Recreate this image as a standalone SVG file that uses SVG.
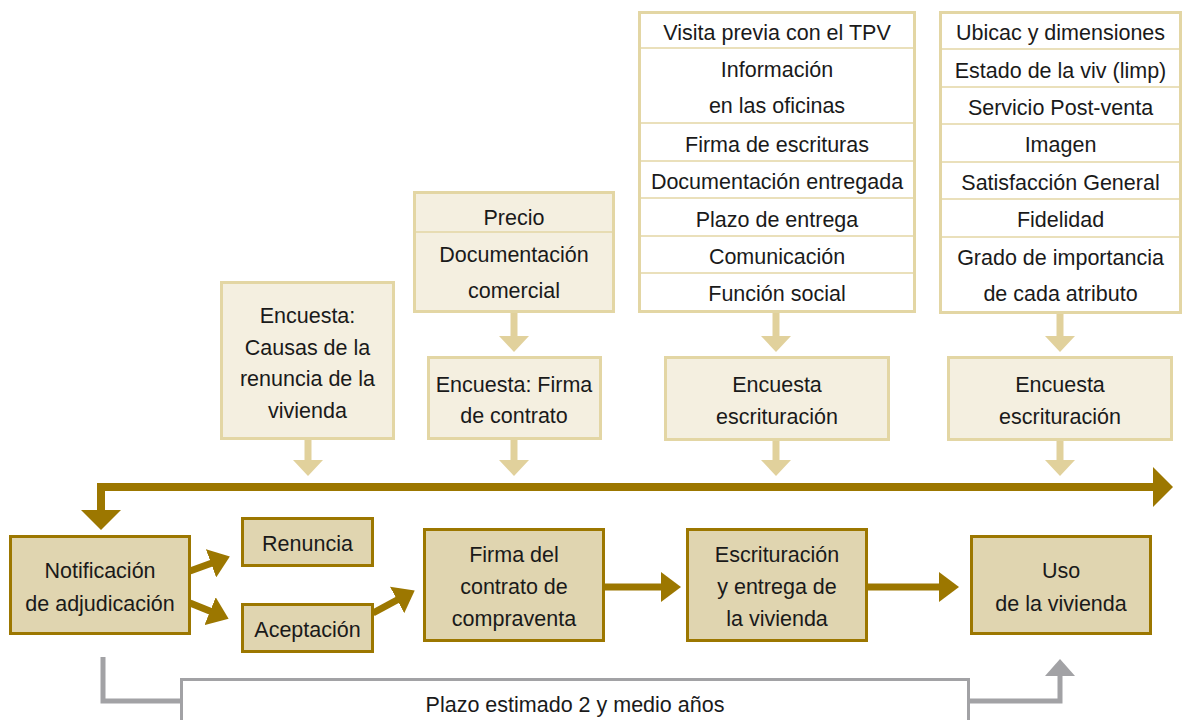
<svg xmlns="http://www.w3.org/2000/svg" width="1184" height="720" viewBox="0 0 1184 720">
<defs>
<style>
text{font-family:"Liberation Sans",Arial,sans-serif;font-size:21.5px;fill:#1a1a1a;text-anchor:middle}
.dk{fill:#e0d5b0;stroke:#9c7700;stroke-width:3}
.lt{fill:#f4efe0;stroke:#e3d6a4;stroke-width:3}
.tb{fill:#ffffff;stroke:#e3d6a4;stroke-width:3}
.dv{stroke:#e3d6a4;stroke-width:1.5}
.ga{stroke:#9c7700;stroke-width:7;fill:none}
.gh{fill:#9c7700}
.la{stroke:#e1d19c;stroke-width:7;fill:none}
.lh{fill:#e1d19c}
.gy{stroke:#a2a2a5;stroke-width:5;fill:none}
</style>
<marker id="mg" markerUnits="userSpaceOnUse" viewBox="0 0 20 30" refX="1" refY="15" markerWidth="20" markerHeight="30" orient="auto"><path d="M0,0 L20,15 L0,30 z" fill="#9c7700"/></marker>
</defs>
<rect width="1184" height="720" fill="#ffffff"/>

<g id="connectors">
<path d="M101,510 V487 H1155" stroke="#9c7700" stroke-width="8" fill="none"/>
<polygon class="gh" points="81,510 121,510 101,530"/>
<polygon class="gh" points="1153,467 1173,487 1153,507"/>
<line class="ga" x1="190" y1="571" x2="212" y2="563" marker-end="url(#mg)"/>
<line class="ga" x1="190" y1="603" x2="211" y2="611.5" marker-end="url(#mg)"/>
<line class="ga" x1="373" y1="613" x2="398" y2="599.5" marker-end="url(#mg)"/>
<line class="ga" x1="604" y1="587" x2="662" y2="587" marker-end="url(#mg)"/>
<line class="ga" x1="867" y1="587" x2="940" y2="587" marker-end="url(#mg)"/>
<line class="la" x1="308" y1="439" x2="308" y2="461"/>
<polygon class="lh" points="293,460 323,460 308,476"/>
<line class="la" x1="514" y1="312" x2="514" y2="337"/>
<polygon class="lh" points="499,336 529,336 514,352"/>
<line class="la" x1="514" y1="439" x2="514" y2="461"/>
<polygon class="lh" points="499,460 529,460 514,476"/>
<line class="la" x1="776" y1="312" x2="776" y2="337"/>
<polygon class="lh" points="761,336 791,336 776,352"/>
<line class="la" x1="776" y1="440" x2="776" y2="461"/>
<polygon class="lh" points="761,460 791,460 776,476"/>
<line class="la" x1="1060" y1="313" x2="1060" y2="337"/>
<polygon class="lh" points="1045,336 1075,336 1060,352"/>
<line class="la" x1="1060" y1="440" x2="1060" y2="461"/>
<polygon class="lh" points="1045,460 1075,460 1060,476"/>
<path class="gy" d="M103,657 V701 H183"/>
<path class="gy" d="M967,701 H1060 V674"/>
<polygon fill="#a2a2a5" points="1045,676 1075,676 1060,659"/>
</g>

<g id="plazo">
<rect x="181.5" y="679.5" width="787" height="60" fill="#ffffff" stroke="#a2a2a5" stroke-width="3"/>
<text x="575" y="712">Plazo estimado 2 y medio años</text>
</g>

<g id="notificacion">
<rect class="dk" x="10.5" y="536.5" width="179" height="97"/>
<text x="100" y="578">Notificación</text>
<text x="100" y="611">de adjudicación</text>
</g>
<g id="renuncia">
<rect class="dk" x="242.5" y="518.5" width="130" height="47"/>
<text x="307.5" y="551">Renuncia</text>
</g>
<g id="aceptacion">
<rect class="dk" x="242.5" y="604.5" width="130" height="47"/>
<text x="307.5" y="637">Aceptación</text>
</g>
<g id="firma">
<rect class="dk" x="424.5" y="529.5" width="179" height="111"/>
<text x="514" y="562">Firma del</text>
<text x="514" y="594">contrato de</text>
<text x="514" y="626">compraventa</text>
</g>
<g id="escrituracion">
<rect class="dk" x="687.5" y="529.5" width="179" height="111"/>
<text x="777" y="562">Escrituración</text>
<text x="777" y="594">y entrega de</text>
<text x="777" y="626">la vivienda</text>
</g>
<g id="uso">
<rect class="dk" x="971.5" y="536.5" width="179" height="97"/>
<text x="1061" y="578">Uso</text>
<text x="1061" y="611">de la vivienda</text>
</g>

<g id="encuesta-renuncia">
<rect class="lt" x="221.5" y="282.5" width="172" height="156"/>
<text x="307.5" y="323">Encuesta:</text>
<text x="307.5" y="355">Causas de la</text>
<text x="307.5" y="386">renuncia de la</text>
<text x="307.5" y="418">vivienda</text>
</g>

<g id="atributos-contrato">
<rect class="lt" x="414.5" y="192.5" width="199" height="119"/>
<line class="dv" x1="414" y1="232" x2="614" y2="232"/>
<text x="514" y="225">Precio</text>
<text x="514" y="262">Documentación</text>
<text x="514" y="298">comercial</text>
</g>
<g id="encuesta-firma">
<rect class="lt" x="428.5" y="357.5" width="172" height="81"/>
<text x="514" y="392">Encuesta: Firma</text>
<text x="514" y="423">de contrato</text>
</g>

<g id="atributos-escrituracion">
<rect class="tb" x="639.5" y="12.5" width="275" height="299"/>
<line class="dv" x1="639" y1="48" x2="915" y2="48"/>
<line class="dv" x1="639" y1="123" x2="915" y2="123"/>
<line class="dv" x1="639" y1="161" x2="915" y2="161"/>
<line class="dv" x1="639" y1="198" x2="915" y2="198"/>
<line class="dv" x1="639" y1="236" x2="915" y2="236"/>
<line class="dv" x1="639" y1="273" x2="915" y2="273"/>
<text x="777" y="40">Visita previa con el TPV</text>
<text x="777" y="77">Información</text>
<text x="777" y="113">en las oficinas</text>
<text x="777" y="152">Firma de escrituras</text>
<text x="777" y="189">Documentación entregada</text>
<text x="777" y="227">Plazo de entrega</text>
<text x="777" y="264">Comunicación</text>
<text x="777" y="301">Función social</text>
</g>
<g id="encuesta-escrituracion-1">
<rect class="lt" x="665.5" y="357.5" width="223" height="82"/>
<text x="777" y="392">Encuesta</text>
<text x="777" y="424">escrituración</text>
</g>

<g id="atributos-uso">
<rect class="tb" x="940.5" y="12.5" width="240" height="300"/>
<line class="dv" x1="940" y1="49" x2="1181" y2="49"/>
<line class="dv" x1="940" y1="87" x2="1181" y2="87"/>
<line class="dv" x1="940" y1="124" x2="1181" y2="124"/>
<line class="dv" x1="940" y1="162" x2="1181" y2="162"/>
<line class="dv" x1="940" y1="199" x2="1181" y2="199"/>
<line class="dv" x1="940" y1="237" x2="1181" y2="237"/>
<text x="1060.5" y="40">Ubicac y dimensiones</text>
<text x="1060.5" y="78">Estado de la viv (limp)</text>
<text x="1060.5" y="115">Servicio Post-venta</text>
<text x="1060.5" y="152">Imagen</text>
<text x="1060.5" y="190">Satisfacción General</text>
<text x="1060.5" y="227">Fidelidad</text>
<text x="1060.5" y="265">Grado de importancia</text>
<text x="1060.5" y="301">de cada atributo</text>
</g>
<g id="encuesta-escrituracion-2">
<rect class="lt" x="948.5" y="357.5" width="223" height="82"/>
<text x="1060" y="392">Encuesta</text>
<text x="1060" y="424">escrituración</text>
</g>
</svg>
